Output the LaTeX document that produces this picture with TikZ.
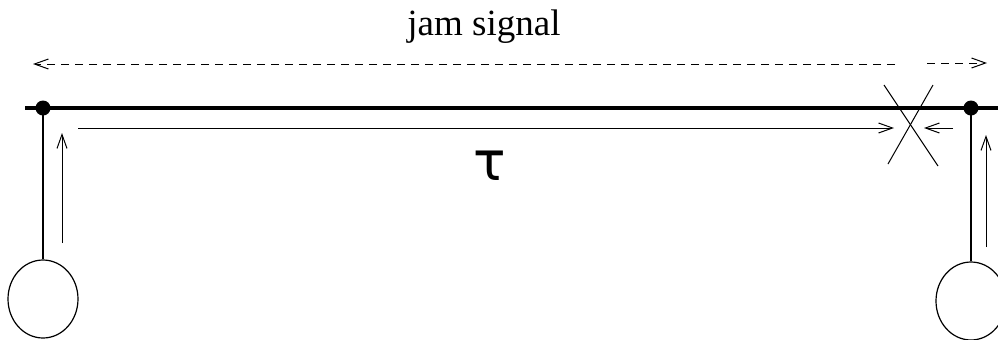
\documentclass[tikz,border=0pt]{standalone}
\usepackage{fontspec}
\setmainfont{Liberation Serif}
\newfontfamily\symfont{DejaVu Sans}
\usetikzlibrary{arrows.meta,shapes.geometric}
\tikzset{
  bus/.style={line width=2pt},
  stub/.style={line width=1pt},
  thin/.style={line width=0.5pt},
  barb/.style={-{Straight Barb[length=7pt,width=5pt,line width=0.5pt]}},
  jamline/.style={thin,dash pattern=on 4pt off 3pt},
  dot/.style={circle,fill=black,inner sep=0pt,minimum size=7.5pt},
  station/.style={ellipse,draw,line width=0.6pt,minimum width=35pt,minimum height=39pt,inner sep=0pt},
}
\begin{document}
\begin{tikzpicture}[x=0.5pt,y=-0.5pt]
\useasboundingbox (0,0) rectangle (998,339);
% bus
\coordinate (busL) at (25,108);
\coordinate (busR) at (998,108);
\draw[bus] (busL) -- (busR);
\node[dot] (dotL) at (43,108) {};
\node[dot] (dotR) at (971,108) {};
% stations
\node[station] (stL) at (43,299) {};
\node[station] (stR) at (971,301) {};
\draw[stub] (dotL.center) -- (stL.north);
\draw[stub] (dotR.center) -- (stR.north);
% upward arrows
\coordinate (upLa) at (62,243); \coordinate (upLb) at (62,133);
\coordinate (upRa) at (986,247); \coordinate (upRb) at (986,135);
\draw[thin,barb] (upLa) -- (upLb);
\draw[thin,barb] (upRa) -- (upRb);
% tau arrow
\coordinate (tauA) at (78,128); \coordinate (tauB) at (894,128);
\draw[thin,barb] (tauA) -- (tauB);
\coordinate (rA) at (953,128); \coordinate (rB) at (924,128);
\draw[thin,barb] (rA) -- (rB);
% collision cross
\coordinate (x1) at (884,85); \coordinate (x2) at (938,166);
\coordinate (x3) at (933,85); \coordinate (x4) at (888,164);
\draw[thin] (x1) -- (x2);
\draw[thin] (x3) -- (x4);
% jam signal
\coordinate (jA) at (895,64); \coordinate (jB) at (33,64);
\coordinate (jC) at (927,63); \coordinate (jD) at (987,63);
\draw[jamline,barb] (jA) -- (jB);
\draw[jamline,barb] (jC) -- (jD);
\node[font=\fontsize{18.5}{20}\selectfont,inner sep=0pt,anchor=base] (jam) at (484,35) {jam signal};
\node[font=\symfont\fontsize{27}{28}\selectfont,inner sep=0pt] (tau) at (490,166) {τ};
\end{tikzpicture}
\end{document}
